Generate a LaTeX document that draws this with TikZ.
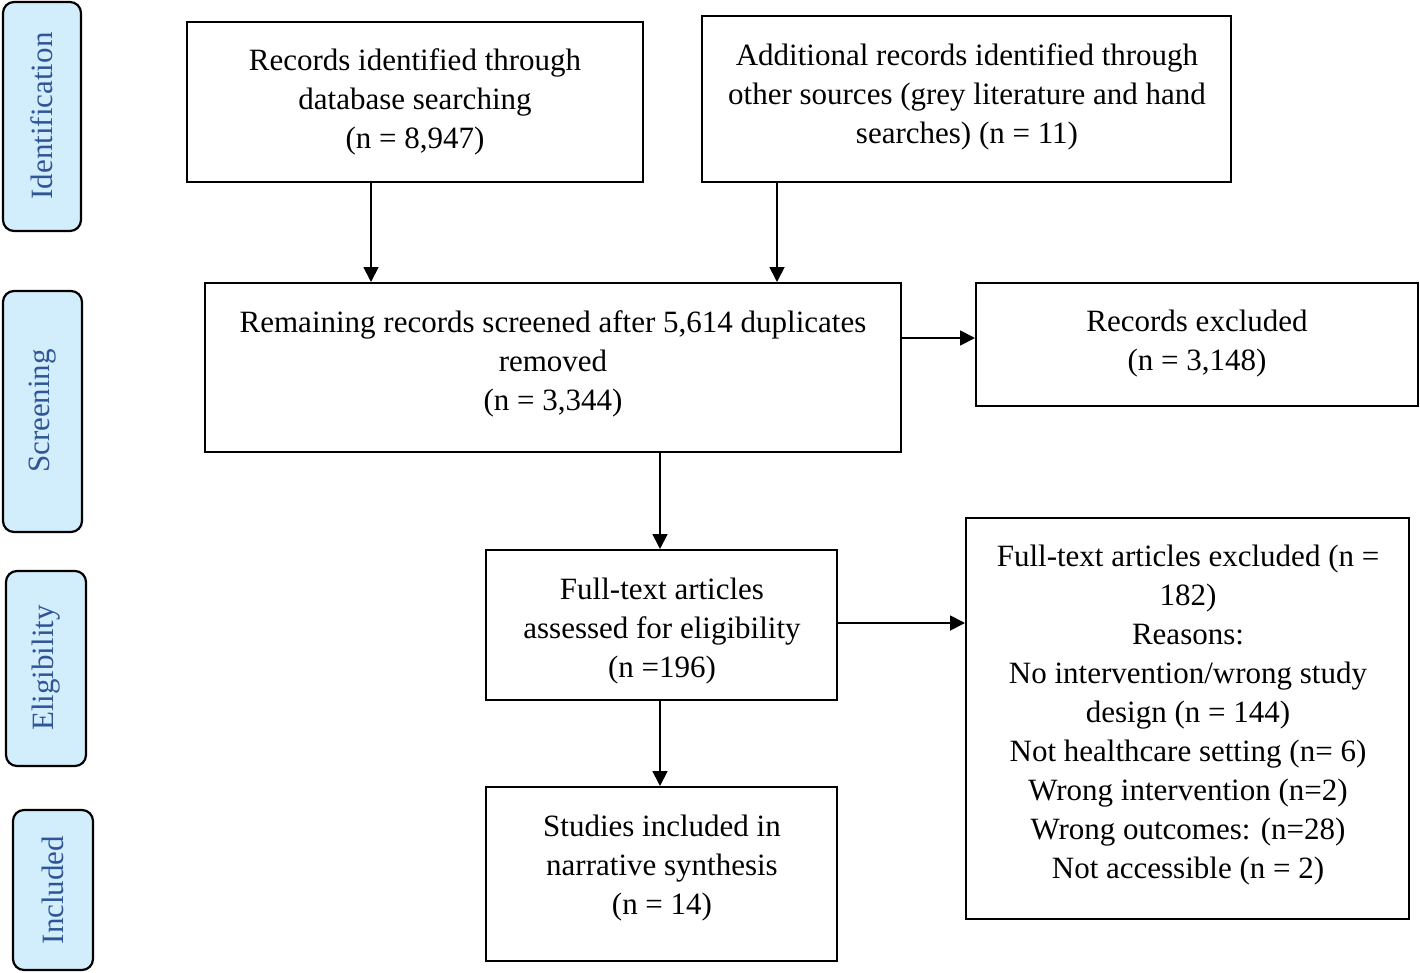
\documentclass[tikz,border=0pt]{standalone}
\usepackage{fontspec}
\setmainfont{Liberation Serif}
\usetikzlibrary{arrows.meta}
\definecolor{sidefill}{HTML}{D2EEFC}
\definecolor{sidetext}{HTML}{2F5597}
\tikzset{
  box/.style={draw=black, line width=2pt, fill=white, inner sep=0pt},
  txt/.style={inner sep=0pt, align=center, font=\fontsize{31}{39}\selectfont},
  side/.style={draw=black, line width=2.2pt, fill=sidefill, rounded corners=11pt, inner sep=0pt},
  sidetxt/.style={rotate=90, text=sidetext, font=\fontsize{31}{36}\selectfont},
  arr/.style={line width=1.8pt, -{Triangle[length=15pt,width=15pt]}}
}
\begin{document}
\begin{tikzpicture}[x=1pt,y=-1pt]
\useasboundingbox (0,0) rectangle (1420,972);
% side labels
\node[side, minimum width=78pt, minimum height=229pt] (sid) at (42,116.5) {};
\node[sidetxt] (tid) at (42,116) {Identification};
\node[side, minimum width=79pt, minimum height=241pt] (sscr) at (42.5,411.5) {};
\node[sidetxt] (tscr) at (43,411) {Screening};
\node[side, minimum width=80pt, minimum height=195pt] (selig) at (46,668.5) {};
\node[sidetxt] (telig) at (46,668) {Eligibility};
\node[side, minimum width=80pt, minimum height=160pt] (sinc) at (53,890) {};
\node[sidetxt] (tinc) at (53,890) {Included};
% boxes
\node[box, minimum width=456pt, minimum height=160pt] (a) at (415,102) {};
\node[txt] (at) at (415,102)
  {Records identified through\\database searching\\(n = 8,947)};
\node[box, minimum width=529pt, minimum height=166pt] (b) at (966.5,99) {};
\node[txt] (bt) at (967,97)
  {Additional records identified through\\other sources (grey literature and hand\\searches) (n = 11)};
\node[box, minimum width=696pt, minimum height=169pt] (c) at (553,367.5) {};
\node[txt] (ct) at (553,364)
  {Remaining records screened after 5,614 duplicates\\removed\\(n = 3,344)};
\node[box, minimum width=442pt, minimum height=123pt] (d) at (1197,344.5) {};
\node[txt] (dt) at (1197,343.5)
  {Records excluded\\(n = 3,148)};
\node[box, minimum width=351pt, minimum height=150pt] (e) at (661.5,625) {};
\node[txt] (et) at (662,631)
  {Full-text articles\\assessed for eligibility\\(n =196)};
\node[box, minimum width=443pt, minimum height=401pt] (f) at (1187.5,718.5) {};
\node[txt] (ft) at (1188,715)
  {Full-text articles excluded (n =\\182)\\Reasons:\\No intervention/wrong study\\design (n = 144)\\Not healthcare setting (n= 6)\\Wrong intervention (n=2)\\Wrong outcomes: (n=28)\\Not accessible (n = 2)};
\node[box, minimum width=351pt, minimum height=174pt] (g) at (661.5,874) {};
\node[txt] (gt) at (662,868)
  {Studies included in\\narrative synthesis\\(n = 14)};
% arrows
\draw[arr] (a.south -| 371,0) -- (c.north -| 371,0);
\draw[arr] (b.south -| 777,0) -- (c.north -| 777,0);
\draw[arr] (c.east |- 0,338) -- (d.west |- 0,338);
\draw[arr] (c.south -| 660,0) -- (e.north -| 660,0);
\draw[arr] (e.east |- 0,623) -- (f.west |- 0,623);
\draw[arr] (e.south -| 660,0) -- (g.north -| 660,0);
\end{tikzpicture}
\end{document}
